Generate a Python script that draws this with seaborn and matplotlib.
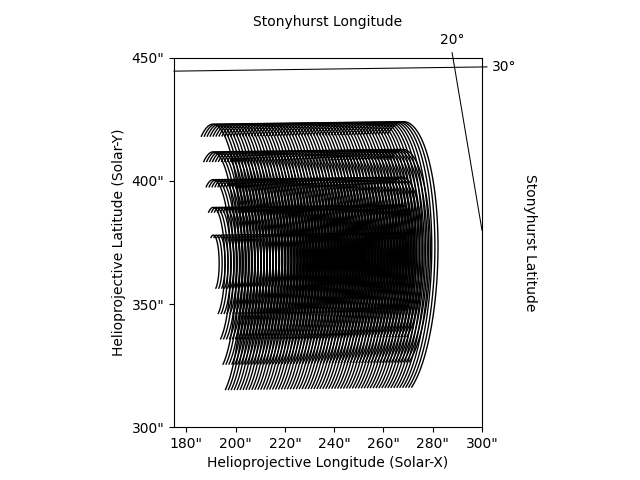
# Loops seen near (220", 370") in helioprojective coordinates, with a Stonyhurst grid overlay

import numpy as np
import pandas as pd
import seaborn as sns
import matplotlib.pyplot as plt
from matplotlib.ticker import FuncFormatter

# centre of each column of loops (arcsec); the row drifts up slightly to the west
loop_x = [191.0, 192.2, 193.4, 194.6, 195.8, 197.0, 198.2, 199.4, 200.6, 201.8,
          203.0, 204.2, 205.4, 206.6, 207.8, 209.0, 210.2, 211.4, 212.6, 213.8,
          215.0, 216.2, 217.4, 218.6, 219.8, 221.0, 222.2, 223.4, 224.6, 225.8,
          227.0, 228.2, 229.4, 230.6, 231.8, 233.0, 234.2, 235.4, 236.6, 237.8,
          239.0, 240.2, 241.4, 242.6, 243.8, 245.0, 246.2, 247.4, 248.6, 249.8,
          251.0, 252.2, 253.4, 254.6, 255.8, 257.0, 258.2, 259.4, 260.6, 261.8,
          263.0, 264.2, 265.4, 266.6]
loop_y = [366.70, 366.72, 366.73, 366.75, 366.76, 366.78, 366.80, 366.81, 366.83, 366.84,
          366.86, 366.87, 366.89, 366.91, 366.92, 366.94, 366.95, 366.97, 366.99, 367.00,
          367.02, 367.03, 367.05, 367.06, 367.08, 367.10, 367.11, 367.13, 367.14, 367.16,
          367.18, 367.19, 367.21, 367.22, 367.24, 367.25, 367.27, 367.29, 367.30, 367.32,
          367.33, 367.35, 367.37, 367.38, 367.40, 367.41, 367.43, 367.44, 367.46, 367.48,
          367.49, 367.51, 367.52, 367.54, 367.56, 367.57, 367.59, 367.60, 367.62, 367.63,
          367.65, 367.67, 367.68, 367.70]
loop_sizes = [5, 4, 3, 2, 1]

# projected offsets for one unit of loop size (arcsec), at the westernmost column
foot_vec = (-0.98, 10.28)   # centre -> northern footpoint
apex_vec = (2.95, 4.6)      # centre -> loop top (x part scales with distance from centre)

x_ticks = [180, 200, 220, 240, 260, 280, 300]
y_ticks = [300, 350, 400, 450]

# Stonyhurst grid lines inside the frame
lat30_x = [175.0, 300.0]
lat30_y = [444.5, 446.2]
lon20_x = [288.2, 300.0]
lon20_y = [450.0, 379.9]


def main():
    t = np.linspace(0, np.pi, 90)
    parts = []
    n = 0
    for xc, yc in zip(loop_x, loop_y):
        apex_x = apex_vec[0] * xc / loop_x[-1]
        for s in loop_sizes:
            x = xc + s * (foot_vec[0] * np.cos(t) + apex_x * np.sin(t))
            y = yc + s * (foot_vec[1] * np.cos(t) + apex_vec[1] * np.sin(t))
            parts.append(pd.DataFrame({"x": x, "y": y, "loop": n}))
            n += 1
    loops = pd.concat(parts, ignore_index=True)

    fig, ax = plt.subplots(figsize=(6.4, 4.8), dpi=100)

    # one hue level per loop, all drawn in black
    sns.lineplot(data=loops, x="x", y="y", hue="loop", palette=["black"] * n,
                 estimator=None, sort=False, lw=1, legend=False, ax=ax)

    ax.set_xlim(175, 300)
    ax.set_ylim(300, 450)
    ax.set_aspect("equal")
    ax.set_xticks(x_ticks)
    ax.set_yticks(y_ticks)
    arcsec = FuncFormatter(lambda v, p: f'{int(round(v))}"')
    ax.xaxis.set_major_formatter(arcsec)
    ax.yaxis.set_major_formatter(arcsec)
    ax.set_xlabel("Helioprojective Longitude (Solar-X)")
    ax.set_ylabel("Helioprojective Latitude (Solar-Y)")

    # overlay grid, each line runs a little past the frame as its tick
    d = np.array([lat30_x[1] - lat30_x[0], lat30_y[1] - lat30_y[0]])
    d = d / np.hypot(*d) * 2.0
    ax.plot([lat30_x[0], lat30_x[1] + d[0]], [lat30_y[0], lat30_y[1] + d[1]],
            color="black", lw=0.75, clip_on=False)
    d = np.array([lon20_x[0] - lon20_x[1], lon20_y[0] - lon20_y[1]])
    d = d / np.hypot(*d) * 2.0
    ax.plot([lon20_x[0] + d[0], lon20_x[1]], [lon20_y[0] + d[1], lon20_y[1]],
            color="black", lw=0.75, clip_on=False)

    ax.annotate("20°", xy=(287.8, 450), xytext=(0, 12.5), textcoords="offset points",
                ha="center", va="center")
    ax.annotate("30°", xy=(300, lat30_y[1]), xytext=(7.2, 0), textcoords="offset points",
                ha="left", va="center")
    ax.annotate("Stonyhurst Longitude", xy=(0.5, 1), xycoords="axes fraction",
                xytext=(0, 25.5), textcoords="offset points", ha="center", va="center")
    ax.annotate("Stonyhurst Latitude", xy=(1, 0.5), xycoords="axes fraction",
                xytext=(34.6, 0), textcoords="offset points", ha="center", va="center",
                rotation=270)

    plt.savefig("out.png", dpi=100)


main()
